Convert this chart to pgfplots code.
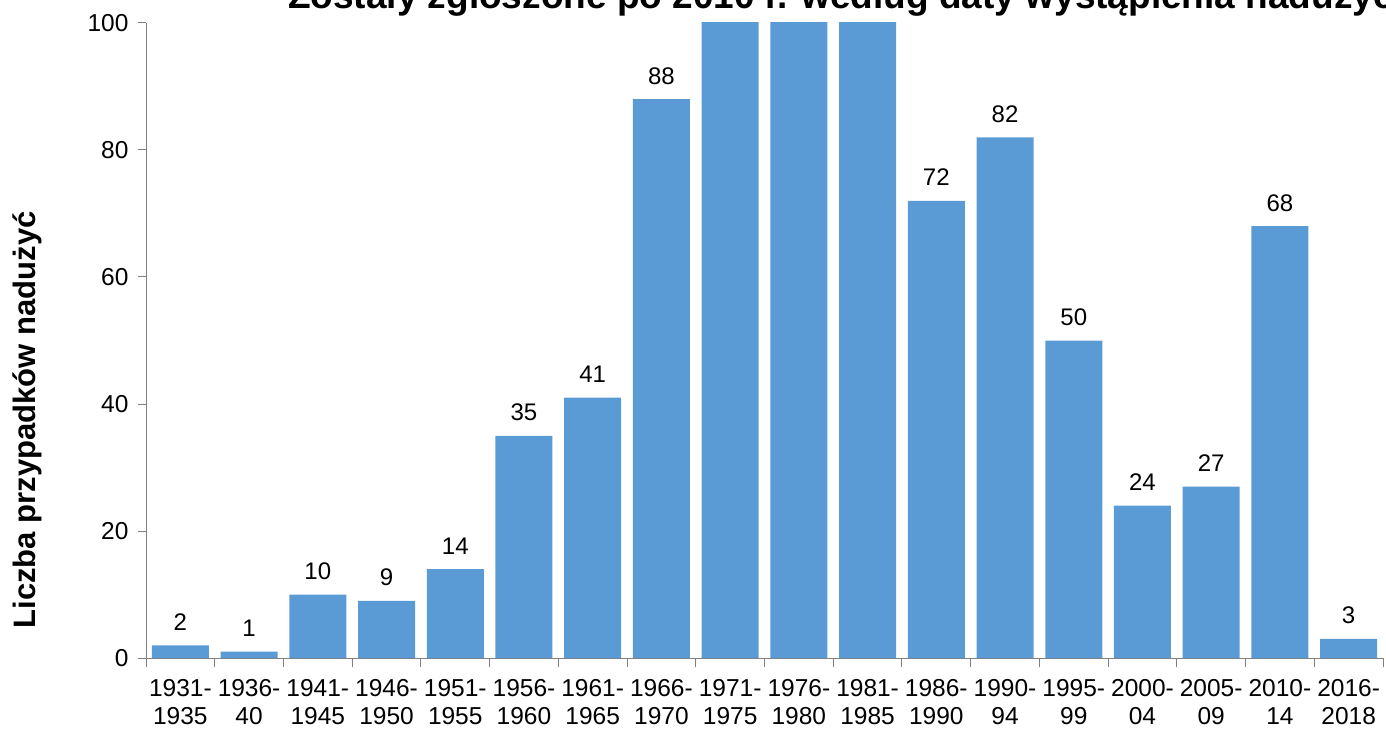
\documentclass[border=0pt]{standalone}
\usepackage{fontspec}
\setmainfont{Liberation Sans}
\usepackage{pgfplots}
\pgfplotsset{compat=1.18}
\definecolor{barblue}{HTML}{5B9BD5}
\definecolor{axgray}{HTML}{808080}
\begin{document}
\begin{tikzpicture}
\begin{axis}[
  scale only axis,
  width=1237pt, height=635pt,
  xmin=-0.5, xmax=17.5, ymin=0, ymax=100,
  axis x line*=bottom, axis y line*=left,
  axis line style={axgray, line width=1pt},
  xtick={0,...,17},
  xticklabels={{1931-\\1935},{1936-\\40},{1941-\\1945},{1946-\\1950},{1951-\\1955},{1956-\\1960},{1961-\\1965},{1966-\\1970},{1971-\\1975},{1976-\\1980},{1981-\\1985},{1986-\\1990},{1990-\\94},{1995-\\99},{2000-\\04},{2005-\\09},{2010-\\14},{2016-\\2018}},
  xticklabel style={align=center, font=\fontsize{24.5}{28}\selectfont, yshift=-10pt},
  major x tick style={draw=none},
  minor xtick={-0.5,0.5,...,17.5},
  minor tick length=9pt,
  minor x tick style={axgray, line width=1pt},
  ytick={0,20,...,100},
  yticklabel style={font=\fontsize{24.5}{28}\selectfont, xshift=-6pt},
  major tick length=8pt,
  major y tick style={axgray, line width=1pt},
  tick align=outside,
  /pgf/number format/assume math mode=true,
  ylabel={\bfseries Liczba przypadków nadużyć},
  ylabel style={font=\fontsize{31}{36}\selectfont, at={(axis description cs:-0.0962,0.375)}, anchor=center},
  ybar, bar width=57pt,
  nodes near coords,
  nodes near coords style={font=\fontsize{24}{28}\selectfont, text=black, inner sep=0pt, anchor=base, yshift=15pt},
]
\addplot[fill=barblue, draw=none, bar shift=0pt] coordinates {
 (0,2) (1,1) (2,10) (3,9) (4,14) (5,35) (6,41) (7,88)
 (11,72) (12,82) (13,50) (14,24) (15,27) (16,68) (17,3)};
\addplot[fill=barblue, draw=none, bar shift=0pt, nodes near coords={}] coordinates {
 (8,130) (9,140) (10,120)};
\end{axis}
\node[overlay, anchor=base west, font=\bfseries\fontsize{37}{44}\selectfont, inner sep=0pt] at ([xshift=142pt,yshift=14pt]current axis.north west) {Zostały zgłoszone po 2010 r. według daty wystąpienia nadużyć};
\pgfresetboundingbox
\path ([xshift=-146pt,yshift=-72pt]current axis.south west) rectangle ([xshift=3pt,yshift=23pt]current axis.north east);
\end{tikzpicture}
\end{document}
